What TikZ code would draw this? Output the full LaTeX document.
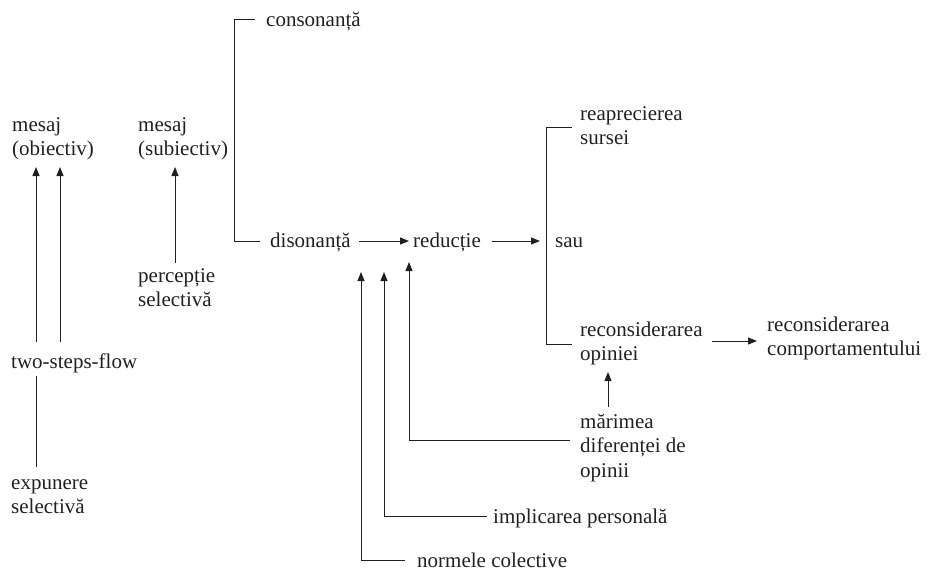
\documentclass[tikz,border=0pt]{standalone}
\usepackage{fontspec}
\setmainfont{Liberation Serif}
\usetikzlibrary{arrows.meta}
\definecolor{ink}{HTML}{231F20}
\begin{document}
\begin{tikzpicture}[x=1pt,y=-1pt,
  lbl/.style={anchor=base west, inner sep=0pt, align=left, text=ink,
              font=\fontsize{21}{24.5}\selectfont},
  wire/.style={draw=ink, line width=0.9pt},
  arr/.style={wire, -{Triangle[length=9pt,width=7pt]}}]
\useasboundingbox (0,0) rectangle (930,571);

% labels (multi-line labels are placed by the baseline of their last line)
\node[lbl] (mo)   at (12,155.5)  {mesaj\\(obiectiv)};
\node[lbl] (ms)   at (138,155.5) {mesaj\\(subiectiv)};
\node[lbl] (tsf)  at (11,368)    {two-steps-flow};
\node[lbl] (es)   at (11,513.5)  {expunere\\selectivă};
\node[lbl] (ps)   at (138,306.5) {percepție\\selectivă};
\node[lbl] (cons) at (266,26)    {consonanță};
\node[lbl] (dis)  at (270,247)   {disonanță};
\node[lbl] (red)  at (413,247)   {reducție};
\node[lbl] (sau)  at (555,247)   {sau};
\node[lbl] (rs)   at (580,144.5) {reaprecierea\\sursei};
\node[lbl] (ro)   at (580,360.5) {reconsiderarea\\opiniei};
\node[lbl] (rc)   at (767,355.5) {reconsiderarea\\comportamentului};
\node[lbl] (mar)  at (580,477)   {mărimea\\diferenței de\\opinii};
\node[lbl] (imp)  at (493,523)   {implicarea personală};
\node[lbl] (norm) at (417,567)   {normele colective};

% two-steps-flow and selective exposure
\draw[arr] ([shift={(25,-26)}]tsf.base west) -- ([shift={(24,11.5)}]mo.base west);
\draw[arr] ([shift={(49,-26)}]tsf.base west) -- ([shift={(48,11.5)}]mo.base west);
\draw[wire] ([shift={(25,-46.5)}]es.base west) -- ([shift={(25,8)}]tsf.base west);

% selective perception
\draw[arr] ([shift={(37,-43.5)}]ps.base west) -- ([shift={(37,11.5)}]ms.base west);

% consonance / dissonance bracket
\draw[wire] ([shift={(-11,-7)}]cons.base west) -- ([shift={(-32,-7)}]cons.base west)
            |- ([shift={(-10,-6)}]dis.base west);

% main chain
\draw[arr] ([shift={(89,-6)}]dis.base west) -- ([shift={(-4,-6)}]red.base west);
\draw[arr] ([shift={(79,-6)}]red.base west) -- ([shift={(-15,-6)}]sau.base west);

% alternatives bracket
\draw[wire] ([shift={(-8,-17.5)}]rs.base west) -- ([shift={(-34,-17.5)}]rs.base west)
            |- ([shift={(-8,-16.5)}]ro.base west);
\draw[arr] ([shift={(132,-19.5)}]ro.base west) -- ([shift={(-10,-14.5)}]rc.base west);

% influencing factors
\draw[arr] ([shift={(28,-70)}]mar.base west) -- ([shift={(28,11.5)}]ro.base west);
\draw[arr] ([shift={(-10,-37)}]mar.base west) -| ([shift={(-4,15)}]red.base west);
\draw[arr] ([shift={(-6,-7)}]imp.base west) -| ([shift={(114,25)}]dis.base west);
\draw[arr] ([shift={(-12,-7)}]norm.base west) -| ([shift={(91,25)}]dis.base west);
\end{tikzpicture}
\end{document}
